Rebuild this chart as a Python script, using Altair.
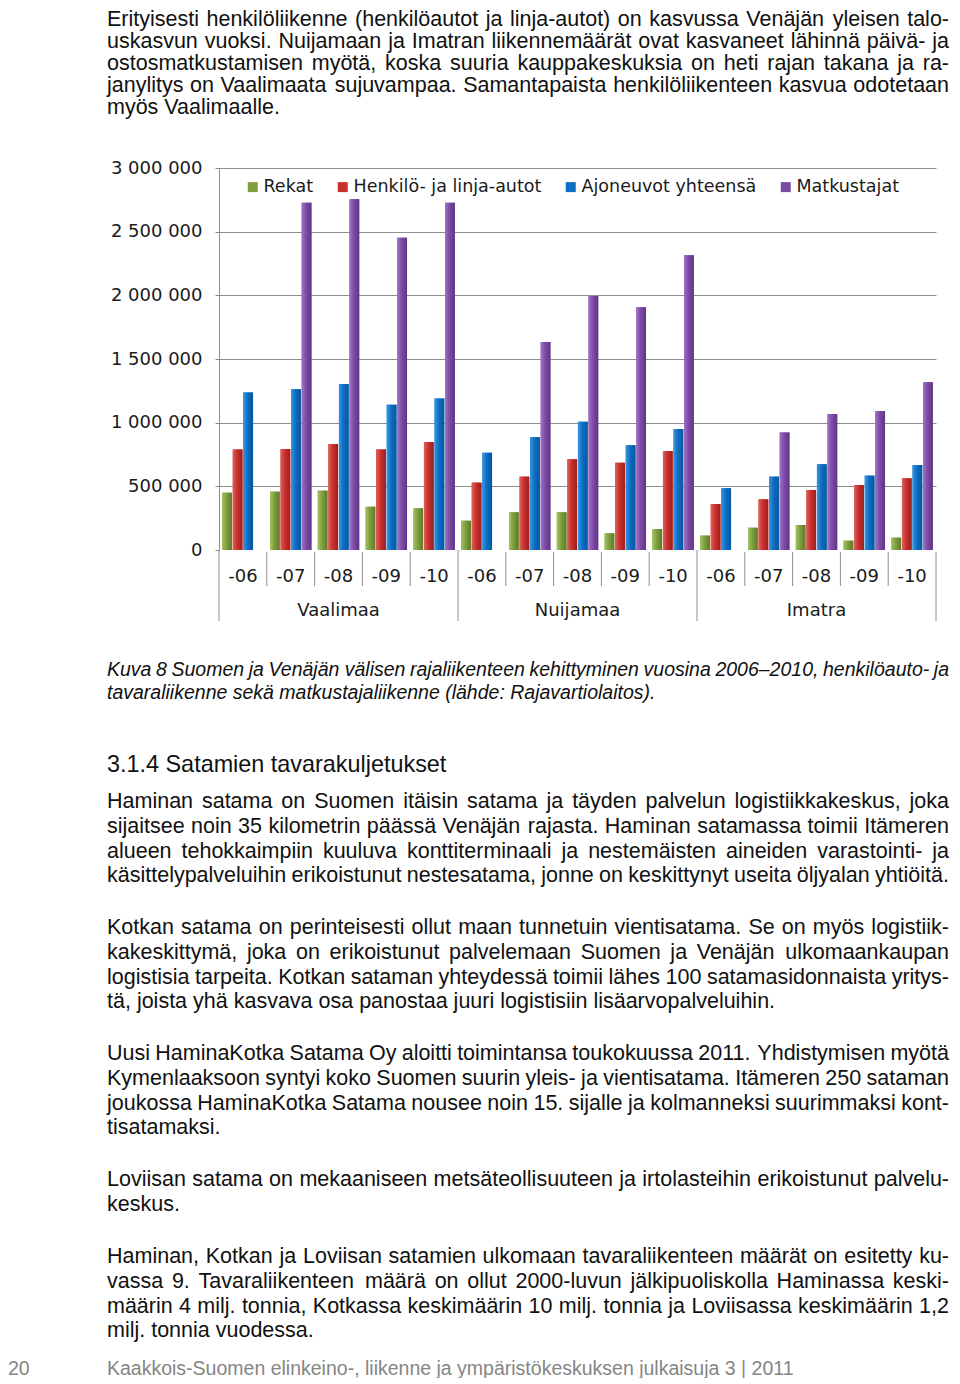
import altair as alt
import pandas as pd

# ---------------- data ----------------
groups = ["Vaalimaa", "Nuijamaa", "Imatra"]
years = ["-06", "-07", "-08", "-09", "-10"]
series = ["Rekat", "Henkilö- ja linja-autot", "Ajoneuvot yhteensä", "Matkustajat"]
colors = ["#7E9E3E", "#C9302C", "#0B6FC4", "#7D4BA6"]
light = ["#A3C45E", "#E0605A", "#3C95E0", "#9E74C6"]
dark = ["#5C7A2A", "#9A201C", "#07559A", "#5E3584"]

rekat = [450000, 458000, 466000, 340000, 327000,
         230000, 296000, 296000, 131000, 165000,
         113000, 175000, 196000, 73000, 97000]
henkilo = [790000, 793000, 833000, 790000, 848000,
           529000, 576000, 712000, 686000, 778000,
           361000, 398000, 471000, 510000, 563000]
ajoneuvot = [1236000, 1262000, 1304000, 1141000, 1189000,
             764000, 885000, 1008000, 822000, 950000,
             484000, 576000, 673000, 584000, 668000]
matkustajat = [None, 2728000, 2754000, 2453000, 2728000,
               None, 1634000, 1995000, 1906000, 2314000,
               None, 922000, 1068000, 1092000, 1317000]

y_ticks = [0, 500000, 1000000, 1500000, 2000000, 2500000, 3000000]

top_text = [
    "Erityisesti henkilöliikenne (henkilöautot ja linja-autot) on kasvussa Venäjän yleisen talo-",
    "uskasvun vuoksi.  Nuijamaan ja Imatran liikennemäärät ovat kasvaneet lähinnä päivä- ja",
    "ostosmatkustamisen myötä, koska suuria kauppakeskuksia on heti rajan takana ja ra-",
    "janylitys on Vaalimaata sujuvampaa. Samantapaista henkilöliikenteen kasvua odotetaan",
    "myös Vaalimaalle.",
]
caption = [
    "Kuva 8 Suomen ja Venäjän välisen rajaliikenteen kehittyminen vuosina 2006–2010, henkilöauto- ja",
    "tavaraliikenne sekä matkustajaliikenne (lähde: Rajavartiolaitos).",
]
heading = ["3.1.4 Satamien tavarakuljetukset"]
para1 = [
    "Haminan satama on Suomen itäisin satama ja täyden palvelun logistiikkakeskus, joka",
    "sijaitsee noin 35 kilometrin päässä Venäjän rajasta. Haminan satamassa toimii Itämeren",
    "alueen tehokkaimpiin kuuluva konttiterminaali ja nestemäisten aineiden varastointi- ja",
    "käsittelypalveluihin erikoistunut nestesatama, jonne on keskittynyt useita öljyalan yhtiöitä.",
]
para2 = [
    "Kotkan satama on perinteisesti ollut maan tunnetuin vientisatama. Se on myös logistiik-",
    "kakeskittymä, joka on erikoistunut palvelemaan Suomen ja Venäjän ulkomaankaupan",
    "logistisia tarpeita. Kotkan sataman yhteydessä toimii lähes 100 satamasidonnaista yritys-",
    "tä, joista yhä kasvava osa panostaa juuri logistisiin lisäarvopalveluihin.",
]
para3 = [
    "Uusi HaminaKotka Satama Oy aloitti toimintansa toukokuussa 2011. Yhdistymisen myötä",
    "Kymenlaaksoon syntyi koko Suomen suurin yleis- ja vientisatama. Itämeren 250 sataman",
    "joukossa HaminaKotka Satama nousee noin 15. sijalle ja kolmanneksi suurimmaksi kont-",
    "tisatamaksi.",
]
para4 = [
    "Loviisan satama on mekaaniseen metsäteollisuuteen ja irtolasteihin erikoistunut palvelu-",
    "keskus.",
]
para5 = [
    "Haminan, Kotkan ja Loviisan satamien ulkomaan tavaraliikenteen määrät on esitetty ku-",
    "vassa 9. Tavaraliikenteen määrä on ollut 2000-luvun jälkipuoliskolla Haminassa keski-",
    "määrin 4 milj. tonnia, Kotkassa keskimäärin 10 milj. tonnia ja Loviisassa keskimäärin 1,2",
    "milj. tonnia vuodessa.",
]
page_no = ["20"]
footer = ["Kaakkois-Suomen elinkeino-, liikenne ja ympäristökeskuksen julkaisuja 3 | 2011"]

# ---------------- tables ----------------
keys = [f"{g}|{y}" for g in groups for y in years]
rows = []
for s, vals in zip(series, [rekat, henkilo, ajoneuvot, matkustajat]):
    for k, v in zip(keys, vals):
        rows.append({"key": k, "series": s, "value": v})
df = pd.DataFrame(rows)

group_df = pd.DataFrame({"key": [f"{g}|-08" for g in groups], "label": groups})
starts = [f"{g}|{years[0]}" for g in groups]
inner_df = pd.DataFrame({"key": [k for k in keys if k not in starts]})
start_df = pd.DataFrame({"key": starts})
end_df = pd.DataFrame({"key": [keys[-1]]})

# ---------------- layout ----------------
W, H = 717, 382          # plot area
PX0, PY0 = 219, 168      # page position of plot origin
GRID = "#8E8E8E"
FONT_CH = "DejaVu Sans"
FONT_TX = "Liberation Sans"

xenc = alt.X("key:N", sort=keys, scale=alt.Scale(paddingInner=0, paddingOuter=0),
             axis=alt.Axis(labelExpr="split(datum.value, '|')[1]", labelAngle=0,
                           ticks=False, domain=False, labelPadding=17,
                           labelFont=FONT_CH, labelFontSize=18, labelColor="#1a1a1a",
                           title=None))
xoff = alt.XOffset("series:N", sort=series,
                   scale=alt.Scale(domain=series, paddingInner=0.08, paddingOuter=0.3))
yenc = alt.Y("value:Q",
             scale=alt.Scale(domain=[0, 3000000], nice=False),
             axis=alt.Axis(values=y_ticks,
                           labelExpr="replace(format(datum.value, ','), regexp(',', 'g'), ' ')",
                           labelFont=FONT_CH, labelFontSize=18, labelColor="#1a1a1a",
                           labelPadding=13, tickSize=4, tickColor=GRID,
                           domainColor=GRID, gridColor=GRID,
                           gridOpacity={"condition": {"test": "datum.value === 0", "value": 0},
                                        "value": 1},
                           title=None))

base_bars = alt.Chart(df).mark_bar().encode(
    x=xenc, xOffset=xoff, y=yenc,
    color=alt.Color("series:N", sort=series,
                    scale=alt.Scale(domain=series, range=colors),
                    legend=alt.Legend(orient="none", legendX=25, legendY=10,
                                      direction="horizontal", title=None,
                                      symbolType="square", symbolSize=100,
                                      symbolStrokeWidth=0, labelOffset=2,
                                      columnPadding=20, labelFont=FONT_CH,
                                      labelLimit=0,
                                      labelFontSize=17.5, labelColor="#1a1a1a")),
)

bar_layers = [base_bars]
for s, c, lo, hi in zip(series, colors, light, dark):
    grad = alt.LinearGradient(gradient="linear", x1=0, x2=1, y1=0, y2=0,
                              stops=[alt.GradientStop(color=lo, offset=0),
                                     alt.GradientStop(color=c, offset=0.45),
                                     alt.GradientStop(color=hi, offset=1)])
    bar_layers.append(
        alt.Chart(df).transform_filter(alt.datum.series == s)
        .mark_bar(color=grad).encode(x=xenc, xOffset=xoff, y=yenc)
    )

sep_short = alt.Chart(inner_df).mark_rule(color=GRID, strokeWidth=1).encode(
    x=alt.X("key:N", sort=keys, bandPosition=0),
    y=alt.value(H + 2), y2=alt.value(H + 36))
sep_long = alt.Chart(start_df).mark_rule(color=GRID, strokeWidth=1).encode(
    x=alt.X("key:N", sort=keys, bandPosition=0),
    y=alt.value(H), y2=alt.value(H + 71))
sep_end = alt.Chart(end_df).mark_rule(color=GRID, strokeWidth=1).encode(
    x=alt.X("key:N", sort=keys, bandPosition=1),
    y=alt.value(H + 2), y2=alt.value(H + 71))
group_labels = alt.Chart(group_df).mark_text(
    font=FONT_CH, fontSize=18, color="#1a1a1a", baseline="middle", align="center"
).encode(x=alt.X("key:N", sort=keys), y=alt.value(H + 61), text="label:N")

main = alt.layer(*bar_layers, sep_short, sep_long, sep_end, group_labels)

# ---------------- page text (justified using Arial / Liberation Sans metrics) ----------------
AW = {" ": 278, "(": 333, ")": 333, ",": 278, "-": 333, ".": 278, ":": 278, "–": 556, "|": 260,
      "A": 667, "B": 667, "C": 722, "D": 722, "E": 667, "F": 611, "G": 778, "H": 722, "I": 278,
      "J": 500, "K": 667, "L": 556, "M": 833, "N": 722, "O": 778, "P": 667, "Q": 778, "R": 722,
      "S": 667, "T": 611, "U": 722, "V": 667, "W": 944, "X": 667, "Y": 667, "Z": 611,
      "a": 556, "b": 556, "c": 500, "d": 556, "e": 556, "f": 278, "g": 556, "h": 556, "i": 222,
      "j": 222, "k": 500, "l": 222, "m": 833, "n": 556, "o": 556, "p": 556, "q": 556, "r": 333,
      "s": 500, "t": 278, "u": 556, "v": 500, "w": 722, "x": 500, "y": 500, "z": 500,
      "ä": 556, "ö": 556, "Ä": 667, "Ö": 778}


def tw(s, size):
    return sum(AW.get(ch, 556) for ch in s) / 1000 * size


LX, RX = 107, 949


def layout(lines, y0, lh, size, justify_last=False):
    out = []
    for i, line in enumerate(lines):
        y = y0 + i * lh
        last = i == len(lines) - 1
        words = line.split()
        if (last and not justify_last) or len(words) < 2:
            out.append({"t": line, "px": LX - PX0, "py": y - PY0})
            continue
        widths = [tw(w, size) for w in words]
        gap = (RX - LX - sum(widths)) / (len(words) - 1)
        x = LX
        for w, ww in zip(words, widths):
            out.append({"t": w, "px": x - PX0, "py": y - PY0})
            x += ww + gap
    return out


def text_layer(records, size, style="normal", color="#111111"):
    return alt.Chart(pd.DataFrame(records)).mark_text(
        font=FONT_TX, fontSize=size, fontStyle=style, color=color,
        align="left", baseline="middle"
    ).encode(x=alt.X("px:Q", scale=None, axis=None),
             y=alt.Y("py:Q", scale=None, axis=None),
             text="t:N")


BODY, CAP, HEAD, FOOT = 21.5, 19.5, 23.4, 19.5
body = []
body += layout(top_text, 20, 22, BODY)
body += layout(para1, 802, 24.8, BODY, justify_last=True)
body += layout(para2, 928, 24.8, BODY)
body += layout(para3, 1054, 24.8, BODY)
body += layout(para4, 1180, 24.8, BODY)
body += layout(para5, 1257, 24.8, BODY)
cap = layout(caption, 670, 22.5, CAP)
head = layout(heading, 765, 25, HEAD)
foot = layout(footer, 1369, 25, FOOT)
foot.append({"t": page_no[0], "px": 8 - PX0, "py": 1369 - PY0})

texts = alt.layer(
    text_layer(body, BODY),
    text_layer(cap, CAP, "italic"),
    text_layer(head, HEAD),
    text_layer(foot, FOOT, "normal", "#858585"),
)

chart = alt.layer(main, texts).resolve_scale(
    x="independent", y="independent"
).properties(
    width=W, height=H,
    autosize=alt.AutoSizeParams(type="none"),
    padding={"left": PX0 - 8, "top": PY0 - 8, "right": 944 - (PX0 - 8) - W,
             "bottom": 1370 - (PY0 - 8) - H},
    background="white",
).configure_view(stroke=None)

chart.save("out.html", embed_options={"renderer": "svg", "actions": False})
